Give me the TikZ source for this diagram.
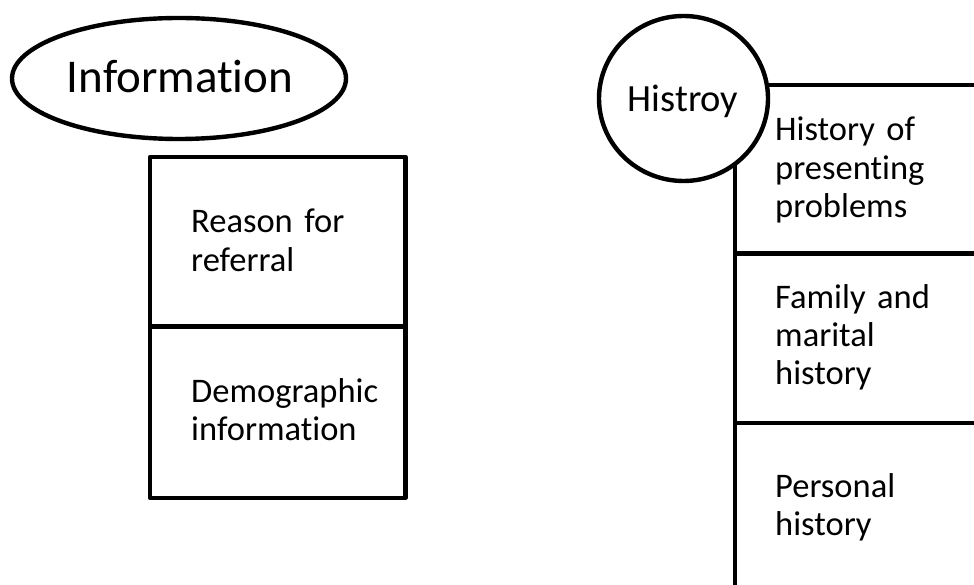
\documentclass[tikz,border=0pt]{standalone}
\usepackage{fontspec}
\setmainfont{Carlito}[Ligatures={NoCommon,NoContextual}, Contextuals=NoAlternate]
\usetikzlibrary{shapes.geometric}
\begin{document}
\begin{tikzpicture}[x=1pt,y=-1pt,
  outline/.style={draw=black, line width=4.4pt, line join=round},
  cell/.style={rectangle, inner sep=0pt, anchor=north west},
  bubble/.style={outline, ellipse, inner sep=0pt, fill=white},
  celltext/.style={font=\fontsize{34.5}{38.5}\selectfont, anchor=base west,
    inner sep=0pt, align=left, text width=230pt},
  title/.style={inner sep=0pt, anchor=base}
]
\useasboundingbox (0,0) rectangle (974,585);
\clip (0,0) rectangle (974,585);

% Information panel
\node[bubble, minimum width=334pt, minimum height=121pt] (info) at (179,78.5) {};
\node[title, font=\fontsize{47}{56}\selectfont] (infolbl) at (180,92.5) {Information};

\node[cell, minimum width=255pt, minimum height=169pt] (reason) at (150,157) {};
\node[cell, minimum width=255pt, minimum height=171pt] (demo) at (reason.south west) {};
\draw[outline] (reason.north west) rectangle (demo.south east);
\draw[outline] (reason.south west) -- (reason.south east);
\node[celltext] (reasonlbl) at (191,233) {Reason for\\referral};
\node[celltext] (demolbl) at (191,402) {Demographic\\information};

% History panel (runs past the right and bottom edges)
\node[cell, minimum width=280pt, minimum height=168pt] (present) at (735,85) {};
\node[cell, minimum width=280pt, minimum height=169pt] (family) at (present.south west) {};
\node[cell, minimum width=280pt, minimum height=180pt] (personal) at (family.south west) {};
\draw[outline] (personal.south west) -- (present.north west) -- (present.north east);
\draw[outline] (present.south west) -- (present.south east);
\draw[outline] (family.south west) -- (family.south east);
\node[celltext] (presentlbl) at (775,141) {History of\\presenting\\problems};
\node[celltext] (familylbl) at (775,308) {Family and\\marital\\history};
\node[celltext] (personallbl) at (775,497) {Personal\\history};

\node[bubble, minimum width=169pt, minimum height=165pt] (hist) at (683.5,98.5) {};
\node[title, font=\fontsize{38.5}{46}\selectfont] (histlbl) at (683,112) {Histroy};
\end{tikzpicture}
\end{document}
